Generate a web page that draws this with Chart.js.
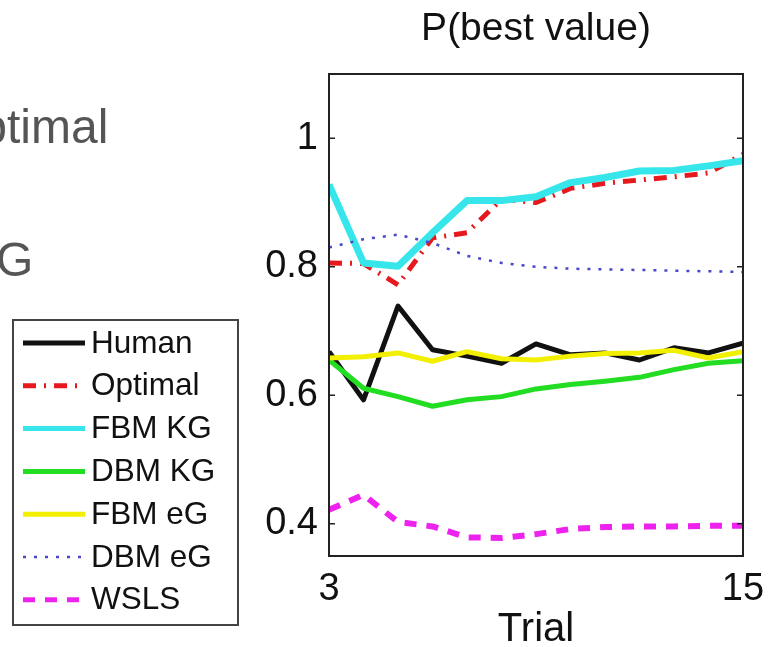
<!DOCTYPE html>
<html>
<head>
<meta charset="utf-8">
<script src="https://cdn.jsdelivr.net/npm/chart.js@4.4.1/dist/chart.umd.min.js"></script>
<style>
  html, body { margin: 0; padding: 0; background: #fff; overflow: hidden; }
  #wrap { position: relative; width: 769px; height: 647px; }
</style>
</head>
<body>
<div id="wrap"><canvas id="c" width="769" height="647"></canvas></div>
<script>
// Trial numbers and probability of choosing the best-valued option
const trials = [3, 4, 5, 6, 7, 8, 9, 10, 11, 12, 13, 14, 15];
const human   = [0.668, 0.593, 0.739, 0.671, 0.661, 0.650, 0.680, 0.663, 0.666, 0.655, 0.674, 0.666, 0.681];
const optimal = [0.806, 0.805, 0.772, 0.845, 0.853, 0.905, 0.900, 0.922, 0.930, 0.935, 0.940, 0.946, 0.975];
const fbmKG   = [0.928, 0.806, 0.801, 0.853, 0.903, 0.903, 0.909, 0.931, 0.939, 0.949, 0.950, 0.957, 0.965];
const dbmKG   = [0.655, 0.611, 0.598, 0.583, 0.593, 0.598, 0.610, 0.617, 0.622, 0.628, 0.640, 0.650, 0.654];
const fbmEG   = [0.658, 0.660, 0.666, 0.653, 0.668, 0.657, 0.655, 0.661, 0.665, 0.666, 0.670, 0.658, 0.668];
const dbmEG   = [0.830, 0.843, 0.850, 0.837, 0.817, 0.806, 0.800, 0.797, 0.796, 0.795, 0.794, 0.793, 0.792];
const wsls    = [0.422, 0.445, 0.403, 0.396, 0.379, 0.378, 0.384, 0.392, 0.395, 0.396, 0.396, 0.397, 0.397];

const xTickValues = [3, 15];
const yTickValues = [0.4, 0.6, 0.8, 1];

const FONT = '"Liberation Sans", Arial, Helvetica, sans-serif';

function pts(values) {
  return values.map((v, i) => ({ x: trials[i], y: v }));
}

const seriesDefs = [
  { label: 'Human',   data: human,   color: '#111111', width: 5, dash: [] },
  { label: 'Optimal', data: optimal, color: '#e61a1e', width: 5, dash: [13, 8, 2, 8] },
  { label: 'FBM KG',  data: fbmKG,   color: '#36e6ea', width: 7, dash: [] },
  { label: 'DBM KG',  data: dbmKG,   color: '#22dd22', width: 5, dash: [] },
  { label: 'FBM eG',  data: fbmEG,   color: '#f2f000', width: 5, dash: [] },
  { label: 'DBM eG',  data: dbmEG,   color: '#4848cc', width: 2.5, dash: [3, 8] },
  { label: 'WSLS',    data: wsls,    color: '#ee22ee', width: 6, dash: [12, 10] }
];

const datasets = seriesDefs.map((s, i) => ({
  label: s.label,
  data: pts(s.data),
  borderColor: s.color,
  backgroundColor: s.color,
  borderWidth: s.width,
  borderDash: s.dash,
  borderJoinStyle: 'round',
  borderCapStyle: 'butt',
  pointRadius: 0,
  tension: 0,
  fill: false,
  order: seriesDefs.length - i
}));

// Axes box, inward tick marks, title, legend and side captions
const decor = {
  id: 'decor',
  afterDatasetsDraw(chart) {
    const { ctx, chartArea: a, scales } = chart;
    ctx.save();
    ctx.strokeStyle = '#222';
    ctx.lineWidth = 2;
    ctx.setLineDash([]);
    ctx.strokeRect(a.left, a.top, a.right - a.left, a.bottom - a.top);
    ctx.beginPath();
    yTickValues.forEach(v => {
      const y = scales.y.getPixelForValue(v);
      ctx.moveTo(a.left, y); ctx.lineTo(a.left + 6, y);
      ctx.moveTo(a.right, y); ctx.lineTo(a.right - 6, y);
    });
    ctx.lineWidth = 1.5;
    ctx.stroke();

    // title
    ctx.fillStyle = '#111';
    ctx.font = '39px ' + FONT;
    ctx.textAlign = 'center';
    ctx.textBaseline = 'alphabetic';
    ctx.fillText('P(best value)', (a.left + a.right) / 2, 40);

    // captions at the left edge
    ctx.fillStyle = '#555';
    ctx.font = '48px ' + FONT;
    ctx.textAlign = 'left';
    ctx.fillText('Optimal', -57, 143);
    ctx.fillText('KG', -36, 276);

    // legend
    const lx = 13, ly = 320, lw = 225, lh = 305;
    ctx.fillStyle = '#fff';
    ctx.fillRect(lx, ly, lw, lh);
    ctx.strokeStyle = '#444';
    ctx.lineWidth = 2;
    ctx.strokeRect(lx, ly, lw, lh);
    ctx.font = '31.5px ' + FONT;
    ctx.textBaseline = 'middle';
    chart.data.datasets.forEach((ds, i) => {
      const y = 343 + i * 42.8;
      ctx.beginPath();
      ctx.strokeStyle = ds.borderColor;
      ctx.lineWidth = Math.min(ds.borderWidth, 5);
      ctx.setLineDash(ds.borderDash);
      ctx.moveTo(23, y);
      ctx.lineTo(85, y);
      ctx.stroke();
      ctx.setLineDash([]);
      ctx.fillStyle = '#111';
      ctx.fillText(ds.label, 91, y + 1);
    });
    ctx.restore();
  }
};

new Chart(document.getElementById('c'), {
  type: 'line',
  data: { datasets },
  options: {
    responsive: false,
    animation: false,
    devicePixelRatio: 1,
    layout: { padding: { left: 229, top: 74, right: 26, bottom: 0 } },
    plugins: {
      legend: { display: false },
      title: { display: false },
      tooltip: { enabled: false }
    },
    scales: {
      x: {
        type: 'linear',
        min: 3,
        max: 15,
        afterBuildTicks: s => { s.ticks = xTickValues.map(v => ({ value: v })); },
        afterFit: s => { s.height = 91; s.paddingLeft = 0; s.paddingRight = 0; },
        grid: { display: false, drawTicks: false },
        border: { display: false },
        ticks: {
          color: '#111',
          font: { family: FONT, size: 38 },
          padding: 11,
          maxRotation: 0,
          autoSkip: false,
          callback: v => String(v)
        },
        title: {
          display: true,
          text: 'Trial',
          color: '#111',
          font: { family: FONT, size: 40, lineHeight: 1 },
          padding: { top: 0, bottom: -3 }
        }
      },
      y: {
        type: 'linear',
        min: 0.35,
        max: 1.1,
        afterBuildTicks: s => { s.ticks = yTickValues.map(v => ({ value: v })); },
        afterFit: s => { s.width = 100; s.paddingTop = 0; s.paddingBottom = 0; },
        grid: { display: false, drawTicks: false },
        border: { display: false },
        ticks: {
          color: '#111',
          font: { family: FONT, size: 38 },
          padding: 11,
          autoSkip: false,
          callback: v => String(Number(v.toFixed(2)))
        }
      }
    }
  },
  plugins: [decor]
});
</script>
</body>
</html>
